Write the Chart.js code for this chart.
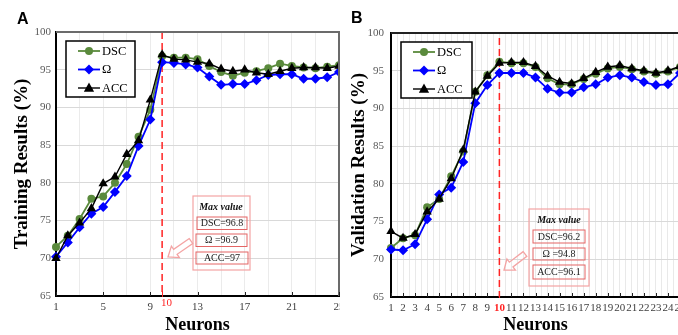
<!DOCTYPE html>
<html>
<head>
<meta charset="utf-8">
<script src="https://cdn.jsdelivr.net/npm/chart.js@4.4.1/dist/chart.umd.min.js"></script>
<style>
  html, body { margin: 0; padding: 0; background: #fff; }
  body { width: 678px; height: 335px; position: relative; overflow: hidden; }
  .panel { position: absolute; top: 0; height: 335px; overflow: hidden; }
  #panelA { left: 0; width: 340px; }
  #panelB { left: 340px; width: 338px; }
  .tag { position: absolute; font: bold 16px "Liberation Sans", Arial, sans-serif; color: #000; }
</style>
</head>
<body>
<div id="panelA" class="panel"><canvas id="chartA" width="362" height="335"></canvas></div>
<div id="panelB" class="panel"><canvas id="chartB" width="370" height="335"></canvas></div>
<div class="tag" style="left:17px;top:10px">A</div>
<div class="tag" style="left:351px;top:9px">B</div>

<script>
// ── Data ─────────────────────────────────────────────────────
const neurons = [1, 2, 3, 4, 5, 6, 7, 8, 9, 10, 11, 12, 13, 14, 15, 16, 17, 18, 19, 20, 21, 22, 23, 24, 25];

const trainDSC   = [71.5, 73.0, 75.2, 77.9, 78.2, 80.0, 82.5, 86.1, 89.7, 96.8, 96.6, 96.6, 96.4, 95.5, 94.7, 94.2, 94.6, 94.8, 95.2, 95.8, 95.5, 95.3, 95.2, 95.4, 95.6];
const trainOmega = [70.2, 72.1, 74.1, 75.9, 76.8, 78.8, 80.9, 84.9, 88.4, 96.0, 95.9, 95.7, 95.3, 94.1, 93.0, 93.1, 93.1, 93.6, 94.3, 94.4, 94.4, 93.8, 93.8, 94.0, 94.7];
const trainACC   = [70.0, 73.0, 74.7, 76.6, 79.9, 80.8, 83.8, 85.6, 91.0, 97.0, 96.4, 96.3, 96.0, 95.8, 95.1, 94.8, 95.0, 94.6, 94.4, 94.8, 95.2, 95.3, 95.3, 95.2, 95.5];

const valDSC   = [71.5, 72.8, 73.2, 76.9, 78.0, 81.0, 84.3, 92.2, 94.4, 96.2, 96.0, 96.0, 95.5, 94.0, 93.2, 93.2, 93.9, 94.6, 95.3, 95.5, 95.2, 94.9, 94.6, 94.9, 95.5];
const valOmega = [71.3, 71.2, 72.0, 75.3, 78.6, 79.5, 82.9, 90.7, 93.1, 94.7, 94.7, 94.7, 94.1, 92.6, 92.1, 92.1, 92.8, 93.2, 94.1, 94.4, 94.1, 93.5, 93.1, 93.2, 94.7];
const valACC   = [73.7, 72.8, 73.3, 76.3, 78.0, 80.7, 84.5, 92.2, 94.3, 96.0, 96.1, 96.1, 95.6, 94.3, 93.5, 93.3, 94.0, 94.8, 95.5, 95.7, 95.3, 95.0, 94.7, 95.0, 95.6];

const seriesNames = ['DSC', 'Ω', 'ACC'];
const xLabelsA = [1, 5, 9, 13, 17, 21, 25];
const xLabelsB = neurons;
const yTicks = [65, 70, 75, 80, 85, 90, 95, 100];
const bestNeuron = 10;
const maxTrainText = ['DSC=96.8', 'Ω =96.9', 'ACC=97'];
const maxValText   = ['DSC=96.2', 'Ω =94.8', 'ACC=96.1'];

// ── Styles ───────────────────────────────────────────────────
const SERIF = '"Liberation Serif", "Times New Roman", serif';
const GREEN = '#5a8a3c', BLUE = '#0000ff', BLACK = '#000000';
const RED = '#ff2424', PINK = '#f4a4a4', PINK_DARK = '#e46464';

const STYLES = [
  { color: GREEN, point: 'circle',   r: 4.0, lw: 1.8, order: 2 },
  { color: BLUE,  point: 'rectRot',  r: 5.0, lw: 1.8, order: 1 },
  { color: BLACK, point: 'triangle', r: 5.4, lw: 1.4, order: 0 }
];

// ── Helpers ──────────────────────────────────────────────────
function mark(ctx, style, x, y, r) {
  ctx.beginPath();
  if (style === 'circle') {
    ctx.arc(x, y, r, 0, Math.PI * 2);
  } else if (style === 'rectRot') {
    ctx.moveTo(x, y - r); ctx.lineTo(x + r, y); ctx.lineTo(x, y + r); ctx.lineTo(x - r, y);
    ctx.closePath();
  } else {
    ctx.moveTo(x, y - r); ctx.lineTo(x + r * 0.95, y + r * 0.7); ctx.lineTo(x - r * 0.95, y + r * 0.7);
    ctx.closePath();
  }
  ctx.fill();
}

function drawLegend(ctx, x, y, w, h) {
  ctx.save();
  ctx.fillStyle = '#fff';
  ctx.fillRect(x, y, w, h);
  ctx.strokeStyle = '#000';
  ctx.lineWidth = 1.5;
  ctx.strokeRect(x, y, w, h);
  ctx.font = '12.5px ' + SERIF;
  ctx.textBaseline = 'middle';
  seriesNames.forEach((name, i) => {
    const s = STYLES[i];
    const ry = y + 10 + i * 18.5;
    ctx.strokeStyle = s.color;
    ctx.lineWidth = s.lw;
    ctx.beginPath(); ctx.moveTo(x + 12, ry); ctx.lineTo(x + 34, ry); ctx.stroke();
    ctx.fillStyle = s.color;
    mark(ctx, s.point, x + 23, ry, s.r);
    ctx.fillStyle = '#000';
    ctx.fillText(name, x + 36, ry + 0.5);
  });
  ctx.restore();
}

function drawNote(ctx, note, texts) {
  ctx.save();
  const [bx, by, bw, bh] = note.box;
  ctx.strokeStyle = PINK;
  ctx.lineWidth = 1.2;
  ctx.strokeRect(bx, by, bw, bh);
  ctx.textAlign = 'center';
  ctx.textBaseline = 'middle';
  ctx.fillStyle = '#111';
  ctx.font = 'italic bold 10px ' + SERIF;
  ctx.fillText('Max value', note.title[0], note.title[1]);
  ctx.font = '10px ' + SERIF;
  note.rows.forEach((r, i) => {
    ctx.strokeStyle = PINK_DARK;
    ctx.lineWidth = 1;
    ctx.strokeRect(r[0], r[1], r[2], r[3]);
    ctx.fillStyle = '#222';
    ctx.fillText(texts[i], r[0] + r[2] / 2, r[1] + r[3] / 2 + 0.5);
  });
  // hollow arrow
  const [tx, ty] = note.arrow.tip, [sx, sy] = note.arrow.tail;
  const len = Math.hypot(tx - sx, ty - sy);
  const ux = (tx - sx) / len, uy = (ty - sy) / len;
  const nx = -uy, ny = ux;
  const hl = 9, sw = 3, hw = 7;
  const bxp = tx - ux * hl, byp = ty - uy * hl;
  ctx.strokeStyle = PINK;
  ctx.lineWidth = 1.3;
  ctx.beginPath();
  ctx.moveTo(sx + nx * sw, sy + ny * sw);
  ctx.lineTo(bxp + nx * sw, byp + ny * sw);
  ctx.lineTo(bxp + nx * hw, byp + ny * hw);
  ctx.lineTo(tx, ty);
  ctx.lineTo(bxp - nx * hw, byp - ny * hw);
  ctx.lineTo(bxp - nx * sw, byp - ny * sw);
  ctx.lineTo(sx - nx * sw, sy - ny * sw);
  ctx.closePath();
  ctx.stroke();
  ctx.restore();
}

// ── Panel factory ────────────────────────────────────────────
function makePanel(id, cfg) {
  const canvas = document.getElementById(id);
  const W = canvas.width, H = canvas.height, A = cfg.area;

  const datasets = cfg.series.map((vals, i) => ({
    label: seriesNames[i],
    data: neurons.map((n, j) => ({ x: n, y: vals[j] })),
    borderColor: STYLES[i].color,
    backgroundColor: STYLES[i].color,
    borderWidth: STYLES[i].lw,
    pointStyle: STYLES[i].point,
    pointRadius: STYLES[i].r,
    pointBorderWidth: 0,
    pointBackgroundColor: STYLES[i].color,
    order: STYLES[i].order,
    tension: 0,
    clip: false
  }));

  const decor = {
    id: 'decor',
    beforeDatasetsDraw(chart) {
      const { ctx, chartArea: ca, scales: { x } } = chart;
      const px = x.getPixelForValue(bestNeuron);
      ctx.save();
      ctx.strokeStyle = RED;
      ctx.lineWidth = 1.5;
      ctx.setLineDash([7, 4]);
      ctx.beginPath();
      ctx.moveTo(px, ca.top + cfg.dashTop);
      ctx.lineTo(px, ca.bottom);
      ctx.stroke();
      ctx.restore();
    },
    afterDraw(chart) {
      const { ctx, chartArea: ca, scales: { x } } = chart;
      ctx.save();
      // top & right frame
      ctx.strokeStyle = cfg.frameColor;
      ctx.lineWidth = 2;
      ctx.beginPath();
      ctx.moveTo(ca.left, ca.top);
      ctx.lineTo(ca.right, ca.top);
      ctx.lineTo(ca.right, ca.bottom);
      ctx.stroke();
      // inward tick marks
      ctx.strokeStyle = '#222';
      ctx.lineWidth = 1;
      cfg.xLabels.forEach(v => {
        const px = Math.round(x.getPixelForValue(v)) + 0.5;
        ctx.beginPath(); ctx.moveTo(px, ca.bottom); ctx.lineTo(px, ca.bottom - 4); ctx.stroke();
      });
      const p10 = Math.round(x.getPixelForValue(bestNeuron)) + 0.5;
      ctx.strokeStyle = RED;
      ctx.beginPath(); ctx.moveTo(p10, ca.bottom + 1); ctx.lineTo(p10, ca.bottom - 5); ctx.stroke();
      if (cfg.red10Label) {
        ctx.fillStyle = RED;
        ctx.font = '11px ' + SERIF;
        ctx.textAlign = 'center';
        ctx.textBaseline = 'middle';
        ctx.fillText(String(bestNeuron), p10 + 4, ca.bottom + 7);
      }
      ctx.restore();
      drawLegend(ctx, ca.left + 10, ca.top + 9, cfg.legendW, 56);
      drawNote(ctx, cfg.note, cfg.noteText);
    }
  };

  return new Chart(canvas, {
    type: 'line',
    data: { datasets },
    plugins: [decor],
    options: {
      responsive: false,
      animation: false,
      devicePixelRatio: 1,
      layout: { padding: { left: 0, top: A.top, right: W - A.right, bottom: 0 } },
      plugins: { legend: { display: false }, tooltip: { enabled: false } },
      scales: {
        x: {
          type: 'linear',
          min: 1, max: 25,
          afterBuildTicks: s => { s.ticks = cfg.xGrid.map(v => ({ value: v })); },
          afterFit: s => { s.height = H - A.bottom; },
          ticks: {
            autoSkip: false, maxRotation: 0, padding: 5,
            callback: v => cfg.xLabels.includes(v) ? String(v) : '',
            color: c => (!cfg.red10Label && c.tick && c.tick.value === bestNeuron) ? RED : '#404040',
            font: c => ({ family: SERIF, size: 11,
              weight: (!cfg.red10Label && c.tick && c.tick.value === bestNeuron) ? 'bold' : 'normal' })
          },
          grid: { drawTicks: false, color: cfg.vGridColor, lineWidth: 1 },
          border: { color: '#000', width: 2 },
          title: { display: true, text: 'Neurons', color: '#000',
            font: { family: SERIF, size: 18, weight: 'bold', lineHeight: 1 },
            padding: { top: 0, bottom: 1 } }
        },
        y: {
          min: 65, max: 100,
          afterBuildTicks: s => { s.ticks = yTicks.map(v => ({ value: v })); },
          afterFit: s => { s.width = A.left; },
          ticks: { color: '#595959', padding: cfg.yPad, font: { family: SERIF, size: 11 } },
          grid: { drawTicks: false, lineWidth: 1,
            color: c => (c.tick && (c.tick.value === 100 || c.tick.value === 65)) ? 'rgba(0,0,0,0)' : '#d9d9d9' },
          border: { color: '#000', width: 2 },
          title: { display: true, text: cfg.yTitle, color: '#000',
            font: { family: SERIF, size: 19, weight: 'bold', lineHeight: 1 },
            padding: { top: cfg.yTitlePad, bottom: 0 } }
        }
      }
    }
  });
}

// grid positions
const gridA = [];
for (let v = 1; v <= 25; v += 2) gridA.push(v);
const gridB = [];
for (let v = 1; v <= 25; v += 0.5) gridB.push(v);

makePanel('chartA', {
  area: { left: 56, top: 32, right: 339, bottom: 296 },
  series: [trainDSC, trainOmega, trainACC],
  xGrid: gridA, xLabels: xLabelsA,
  vGridColor: '#ebebeb',
  red10Label: true,
  dashTop: 0,
  frameColor: '#6b6b6b',
  yTitle: 'Training Results (%)', yTitlePad: 12.5, yPad: 5,
  legendW: 69,
  note: { box: [193, 196, 57, 74], title: [221, 207],
    rows: [[197, 217, 50, 12.5], [196, 234, 51, 12.5], [196, 252, 52, 12]],
    arrow: { tip: [168, 257], tail: [191, 241] } },
  noteText: maxTrainText
});

makePanel('chartB', {
  area: { left: 51, top: 33, right: 340, bottom: 297 },
  series: [valDSC, valOmega, valACC],
  xGrid: gridB, xLabels: xLabelsB,
  vGridColor: '#e9e9e9',
  red10Label: false,
  dashTop: 5,
  frameColor: '#222',
  yTitle: 'Validation Results (%)', yTitlePad: 10, yPad: 7,
  legendW: 71,
  note: { box: [189, 209, 60, 77], title: [219, 220],
    rows: [[193, 230, 52, 13], [193, 248, 52, 12], [193, 265, 52, 14]],
    arrow: { tip: [164, 270], tail: [185, 254] } },
  noteText: maxValText
});
</script>
</body>
</html>
